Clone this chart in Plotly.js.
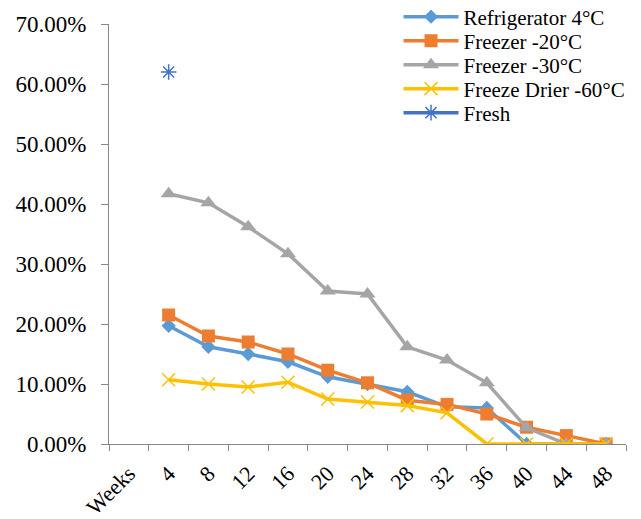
<!DOCTYPE html>
<html>
<head>
<meta charset="utf-8">
<script src="https://cdn.plot.ly/plotly-3.0.1.min.js"></script>
<style>html,body{margin:0;padding:0;background:#fff;}#chart{width:641px;height:519px;}</style>
</head>
<body>
<div id="chart"></div>
<script>
var categories = ["Weeks","4","8","12","16","20","24","28","32","36","40","44","48"];
var refrigerator4 = [null,0.197,0.162,0.150,0.137,0.112,0.100,0.087,0.062,0.060,0.000,0.000,0.000];
var freezer20 = [null,0.215,0.180,0.170,0.150,0.123,0.102,0.073,0.066,0.050,0.028,0.014,0.000];
var freezer30 = [null,0.417,0.402,0.362,0.317,0.255,0.250,0.162,0.140,0.102,0.027,0.000,0.000];
var freezeDrier60 = [null,0.107,0.100,0.095,0.103,0.075,0.070,0.064,0.052,0.000,0.000,0.000,0.000];
var fresh = [null,0.620,null,null,null,null,null,null,null,null,null,null,null];
var seriesNames = ["Refrigerator 4°C","Freezer -20°C","Freezer -30°C","Freeze Drier -60°C","Fresh"];
var yTickVals = [0,0.1,0.2,0.3,0.4,0.5,0.6,0.7];

var font = "Liberation Serif, Times New Roman, serif";
var legendIds = ["legend","legend2","legend3","legend4","legend5"];
function tr(i, y, color, symbol, msize, lw, mline){
  return {
    type:"scatter", mode:"lines+markers", name:seriesNames[i], x:categories, y:y,
    legend:legendIds[i],
    line:{color:color, width:lw},
    marker:{symbol:symbol, size:msize, color:color, line:mline||{width:0}},
    connectgaps:false
  };
}
var data = [
  tr(0, refrigerator4, "#5B9BD5", "diamond", 11, 3.5),
  tr(1, freezer20, "#ED7D31", "square", 13, 3.5),
  tr(2, freezer30, "#A5A5A5", "triangle-up", 14, 3.5),
  tr(3, freezeDrier60, "#FFC000", "x-thin-open", 13, 3.5, {color:"#FFC000", width:1.5}),
  tr(4, fresh, "#4472C4", "asterisk-open", 13, 3.5, {color:"#4472C4", width:1.5})
];
function leg(yc){
  return {x:0.56, xanchor:"left", y:(444-yc)/420, yanchor:"middle", bgcolor:"rgba(0,0,0,0)",
          font:{family:font, size:21, color:"#000"}, itemwidth:55};
}
var layout = {
  width:641, height:519,
  margin:{l:109, r:15, t:24, b:75, pad:0, autoexpand:false},
  paper_bgcolor:"#fff", plot_bgcolor:"#fff",
  font:{family:font, size:21, color:"#000"},
  showlegend:true,
  legend:leg(17), legend2:leg(41), legend3:leg(65), legend4:leg(89), legend5:leg(113),
  xaxis:{
    type:"category", categoryorder:"array", categoryarray:categories,
    range:[-0.5,12.5], tickson:"boundaries", ticks:"outside", ticklen:6, tickcolor:"#888", tickwidth:1,
    showline:true, linecolor:"#888", linewidth:1, showgrid:false, zeroline:false,
    tickangle:-45, tickfont:{family:font, size:22}, ticklabelstandoff:7, automargin:false, fixedrange:true
  },
  yaxis:{
    range:[0,0.7], tickvals:yTickVals, tickformat:".2%", ticks:"outside", ticklen:7, tickcolor:"#888",
    showline:true, linecolor:"#888", linewidth:1, showgrid:false, zeroline:false,
    tickfont:{family:font, size:23}, ticklabelstandoff:10, automargin:false, fixedrange:true
  }
};
Plotly.newPlot("chart", data, layout, {displayModeBar:false, staticPlot:true});
</script>
</body>
</html>
